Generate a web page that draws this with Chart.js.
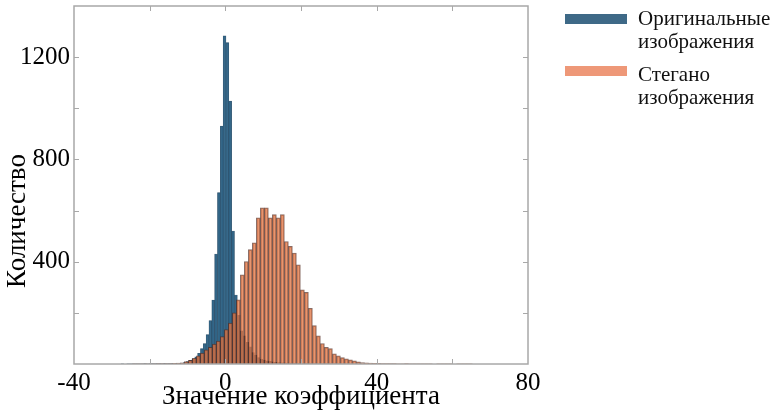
<!DOCTYPE html>
<html>
<head>
<meta charset="utf-8">
<script src="https://cdn.jsdelivr.net/npm/chart.js@4.4.1/dist/chart.umd.min.js"></script>
<style>
  html, body { margin: 0; padding: 0; background: #fff; }
  #wrap { width: 777px; height: 413px; position: relative; }
</style>
</head>
<body>
<div id="wrap"><canvas id="histChart"></canvas></div>
<script>
// Series names (legend, two lines each)
const seriesNames = [['Оригинальные', 'изображения'], ['Стегано', 'изображения']];
const xTitle = 'Значение коэффициента';
const yTitle = 'Количество';
const xTickLabels = [-40, 0, 40, 80];
const yTickLabels = [400, 800, 1200];

// Histogram of the original images: first bin edge, bin width, counts
const originalBinStart = -27.58;
const originalBinWidth = 0.75;
const originalCounts = [
  1, 0, 1, 1, 1, 1, 1, 1, 2, 1, 2, 2, 2, 2, 2, 3, 2, 3, 3, 3, 3,
  4, 6, 9, 14, 20, 28, 42, 60, 80, 115, 170, 250, 430, 670, 930,
  1283, 1257, 1028, 520, 270, 190, 130, 110, 85, 67, 45, 35, 25, 18, 15, 12, 10, 8,
  7, 6, 5, 5, 4, 4, 3, 3, 3, 2, 2, 2, 2, 1, 1, 1, 1, 1, 1, 1, 0, 1, 1
];

// Histogram of the stego images
const stegoBinStart = -24.6;
const stegoBinWidth = 1.058;
const stegoCounts = [
  1, 1, 1, 1, 1, 1, 2, 2, 2, 2, 3,
  4, 5, 9, 14, 22, 32, 43, 55, 65, 78, 90, 107, 135, 160, 200, 251,
  349, 401, 447, 474, 572, 611, 611, 572, 584, 572, 584, 479, 460, 434, 388, 290, 280, 218, 150, 110, 80,
  65, 60, 40, 32, 25, 20, 16, 12, 8, 6, 5, 4, 3, 3, 2, 2, 2, 2, 1, 1, 2, 1, 1, 1, 1, 1, 1, 0, 1, 1, 1, 1, 0, 1, 1, 1, 1
];

const blueFill = 'rgba(38, 92, 128, 0.92)';
const orangeFill = 'rgba(224, 116, 66, 0.76)';
const legendColors = ['rgb(62, 105, 135)', 'rgb(238, 152, 120)'];
const axisGrey = '#a8a8a8';
const serif = '"Liberation Serif", "Times New Roman", serif';

function toBars(start, width, counts) {
  return counts.map((c, i) => ({ x: start + (i + 0.5) * width, y: c }));
}

// Box around the plot with inward tick marks, like the original figure
const frameTicks = {
  id: 'frameTicks',
  afterDatasetsDraw(chart) {
    const { ctx, chartArea: a, scales } = chart;
    ctx.save();
    ctx.strokeStyle = axisGrey;
    ctx.lineWidth = 1;
    scales.y.ticks.forEach(t => {
      if (t.value <= 0 || t.value >= 1400) return;
      const py = Math.round(scales.y.getPixelForValue(t.value)) + 0.5;
      ctx.beginPath();
      ctx.moveTo(a.left, py); ctx.lineTo(a.left + 5, py);
      ctx.moveTo(a.right, py); ctx.lineTo(a.right - 5, py);
      ctx.stroke();
    });
    scales.x.ticks.forEach(t => {
      if (t.value <= -40 || t.value >= 80) return;
      const px = Math.round(scales.x.getPixelForValue(t.value)) + 0.5;
      ctx.beginPath();
      ctx.moveTo(px, a.top); ctx.lineTo(px, a.top + 5);
      ctx.moveTo(px, a.bottom); ctx.lineTo(px, a.bottom - 5);
      ctx.stroke();
    });
    ctx.lineWidth = 1.5;
    ctx.strokeRect(a.left, a.top, a.right - a.left, a.bottom - a.top);
    ctx.restore();
  }
};

// Legend at the right with two-line labels, and the rotated y title
const sideLegend = {
  id: 'sideLegend',
  afterDraw(chart) {
    const ctx = chart.ctx;
    const boxTops = [14, 66];
    const textTops = [25, 81];
    ctx.save();
    ctx.font = '21px ' + serif;
    ctx.textBaseline = 'alphabetic';
    seriesNames.forEach((lines, i) => {
      ctx.fillStyle = legendColors[i];
      ctx.fillRect(565, boxTops[i], 62, 10);
      ctx.fillStyle = '#111';
      lines.forEach((ln, j) => ctx.fillText(ln, 638, textTops[i] + j * 23));
    });
    ctx.restore();

    ctx.save();
    ctx.translate(18, 221);
    ctx.rotate(-Math.PI / 2);
    ctx.font = '27px ' + serif;
    ctx.fillStyle = '#000';
    ctx.textAlign = 'center';
    ctx.textBaseline = 'middle';
    ctx.fillText(yTitle, 0, 0);
    ctx.restore();
  }
};

new Chart(document.getElementById('histChart'), {
  type: 'bar',
  data: {
    datasets: [
      {
        label: seriesNames[1].join(' '),
        data: toBars(stegoBinStart, stegoBinWidth, stegoCounts),
        xAxisID: 'x2',
        order: 0,
        backgroundColor: orangeFill,
        borderColor: 'rgba(85, 45, 35, 0.7)',
        borderWidth: 1
      },
      {
        label: seriesNames[0].join(' '),
        data: toBars(originalBinStart, originalBinWidth, originalCounts),
        xAxisID: 'x',
        order: 1,
        backgroundColor: blueFill,
        borderColor: 'rgba(30, 60, 85, 0.8)',
        borderWidth: 0.5
      }
    ]
  },
  options: {
    responsive: true,
    maintainAspectRatio: false,
    animation: false,
    layout: { padding: { top: 6, right: 249, left: 0, bottom: 0 } },
    datasets: { bar: { barPercentage: 1, categoryPercentage: 1, grouped: false } },
    plugins: { legend: { display: false }, tooltip: { enabled: false } },
    scales: {
      x: {
        type: 'linear', min: -40, max: 80, offset: false,
        grid: { display: false, drawTicks: false },
        border: { display: false },
        ticks: {
          stepSize: 20, autoSkip: false, maxRotation: 0, padding: 4,
          color: '#000', font: { family: serif, size: 25 },
          callback: v => xTickLabels.includes(v) ? String(v) : ''
        },
        title: { display: true, text: xTitle, color: '#000', font: { family: serif, size: 27 }, padding: { top: 0, bottom: 0 } },
        afterFit: s => { s.height = 49; s.paddingLeft = 0; s.paddingRight = 0; }
      },
      x2: { type: 'linear', min: -40, max: 80, offset: false, display: false },
      y: {
        min: 0, max: 1400,
        grid: { display: false, drawTicks: false },
        border: { display: false },
        ticks: {
          stepSize: 200, autoSkip: false, padding: 4,
          color: '#000', font: { family: serif, size: 25 },
          callback: v => yTickLabels.includes(v) ? String(v) : ''
        },
        afterFit: s => { s.width = 74; s.paddingTop = 0; s.paddingBottom = 0; }
      }
    }
  },
  plugins: [frameTicks, sideLegend]
});
</script>
</body>
</html>
